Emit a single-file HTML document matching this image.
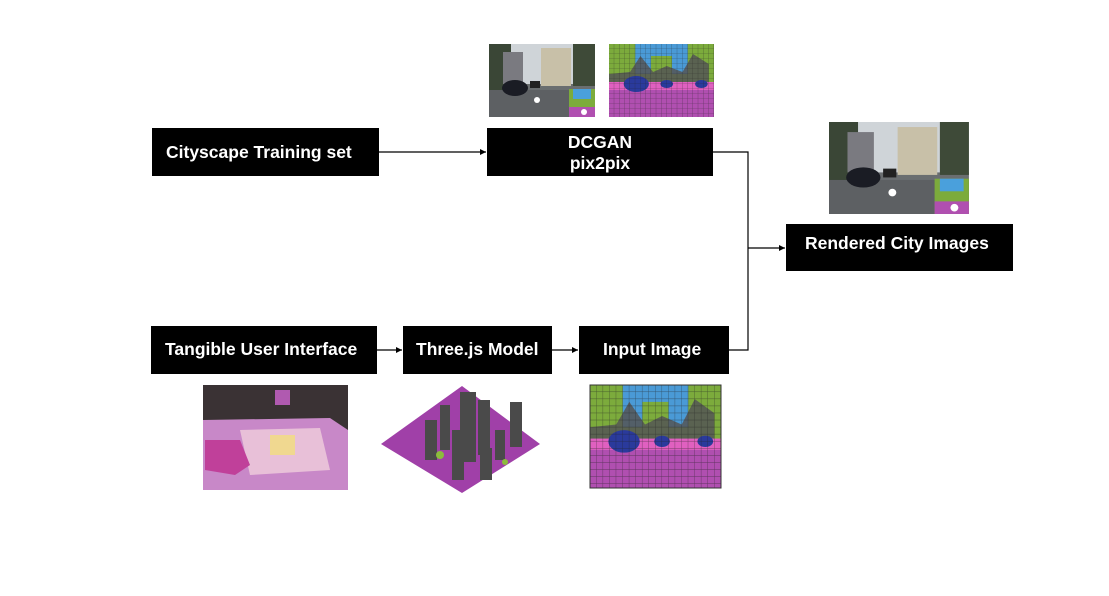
<!DOCTYPE html>
<html><head><meta charset="utf-8"><style>
html,body{margin:0;padding:0;background:#fff;width:1109px;height:596px;overflow:hidden}
svg text{font-family:"Liberation Sans",Arial,sans-serif;font-weight:bold;fill:#fff;font-size:17.5px}
</style></head><body>
<svg width="1109" height="596" viewBox="0 0 1109 596" xmlns="http://www.w3.org/2000/svg">
<defs>
<marker id="a" markerWidth="6" markerHeight="6" refX="5" refY="3" orient="auto"><path d="M0,0.5 L5,3 L0,5.5z" fill="#000"/></marker>
<pattern id="g" width="5" height="5" patternUnits="userSpaceOnUse"><path d="M5 0V5H0" fill="none" stroke="#222" stroke-width="0.6" opacity="0.6"/></pattern>
<g id="street">
<rect width="106" height="73" fill="#6a6e70"/>
<rect width="106" height="40" fill="#cfd4d8"/>
<rect x="0" y="0" width="22" height="50" fill="#3a4636"/>
<rect x="52" y="4" width="30" height="38" fill="#c8c0a8"/>
<rect x="84" y="0" width="22" height="42" fill="#3e4a38"/>
<rect x="14" y="8" width="20" height="32" fill="#7a7a80"/>
<rect x="0" y="46" width="106" height="27" fill="#5d6063"/>
<ellipse cx="26" cy="44" rx="13" ry="8" fill="#1a1c24"/>
<rect x="41" y="37" width="10" height="7" fill="#222"/>
<circle cx="48" cy="56" r="3" fill="#fff"/>
<rect x="80" y="45" width="26" height="28" fill="#7cab3c"/>
<rect x="84" y="45" width="18" height="10" fill="#4aa0dc"/>
<rect x="80" y="63" width="26" height="10" fill="#b04fb0"/>
<circle cx="95" cy="68" r="3" fill="#fff"/>
</g>
<g id="seg">
<rect width="100" height="73" fill="#b04fb0"/>
<rect width="100" height="42" fill="#7cab3c"/>
<path d="M25 0H75V30H60V12H40V30H25z" fill="#4a9ad6"/>
<path d="M30 12L42 28L55 22L70 28L80 10L95 20V42H0V30L20 28z" fill="#555" opacity="0.85"/>
<rect x="0" y="38" width="100" height="8" fill="#e060c0"/>
<ellipse cx="26" cy="40" rx="12" ry="8" fill="#2a3a9c"/>
<ellipse cx="55" cy="40" rx="6" ry="4" fill="#2a3a9c"/>
<ellipse cx="88" cy="40" rx="6" ry="4" fill="#2a3a9c"/>
<rect width="100" height="73" fill="url(#g)"/>
</g>
</defs>

<use href="#street" x="489" y="44"/>
<g transform="translate(609,44) scale(1.05,1)"><use href="#seg"/></g>
<g transform="translate(829,122) scale(1.32,1.26)"><use href="#street"/></g>

<rect x="203" y="385" width="145" height="105" fill="#3a3234"/>
<polygon points="203,420 330,418 348,430 348,490 203,490" fill="#c888c8"/>
<polygon points="240,430 320,428 330,470 250,475" fill="#e8c0d8"/>
<rect x="270" y="435" width="25" height="20" fill="#f0d890"/>
<path d="M205,440 L240,440 L250,465 L235,475 L205,470z" fill="#c0409a"/>
<rect x="275" y="390" width="15" height="15" fill="#b05ab0"/>

<polygon points="462,386 540,444 462,493 381,444" fill="#a040a8"/>
<rect x="425" y="420" width="12" height="40" fill="#4a4a4a"/>
<rect x="440" y="405" width="10" height="45" fill="#4a4a4a"/>
<rect x="460" y="392" width="16" height="70" fill="#4a4a4a"/>
<rect x="478" y="400" width="12" height="55" fill="#4a4a4a"/>
<rect x="452" y="430" width="12" height="50" fill="#4a4a4a"/>
<rect x="480" y="448" width="12" height="32" fill="#4a4a4a"/>
<rect x="510" y="402" width="12" height="45" fill="#4a4a4a"/>
<rect x="495" y="430" width="10" height="30" fill="#4a4a4a"/>
<circle cx="440" cy="455" r="4" fill="#8cbc3c"/><circle cx="505" cy="462" r="3" fill="#8cbc3c"/>

<g transform="translate(590,385) scale(1.31,1.41)"><use href="#seg"/></g>
<rect x="590" y="385" width="131" height="103" fill="none" stroke="#333" stroke-width="1"/>

<g stroke="#000" stroke-width="1.2" fill="none">
<line x1="379" y1="152" x2="486" y2="152" marker-end="url(#a)"/>
<polyline points="713,152 748,152 748,350 729,350"/>
<line x1="748" y1="248" x2="785" y2="248" marker-end="url(#a)"/>
<line x1="377" y1="350" x2="402" y2="350" marker-end="url(#a)"/>
<line x1="552" y1="350" x2="578" y2="350" marker-end="url(#a)"/>
</g>

<rect x="152" y="128" width="227" height="48" fill="#000"/>
<text x="166" y="158">Cityscape Training set</text>
<rect x="487" y="128" width="226" height="48" fill="#000"/>
<text x="600" y="148" text-anchor="middle">DCGAN</text>
<text x="600" y="169" text-anchor="middle">pix2pix</text>
<rect x="786" y="224" width="227" height="47" fill="#000"/>
<text x="805" y="249">Rendered City Images</text>
<rect x="151" y="326" width="226" height="48" fill="#000"/>
<text x="165" y="355">Tangible User Interface</text>
<rect x="403" y="326" width="149" height="48" fill="#000"/>
<text x="416" y="355">Three.js Model</text>
<rect x="579" y="326" width="150" height="48" fill="#000"/>
<text x="603" y="355">Input Image</text>
</svg>
</body></html>
